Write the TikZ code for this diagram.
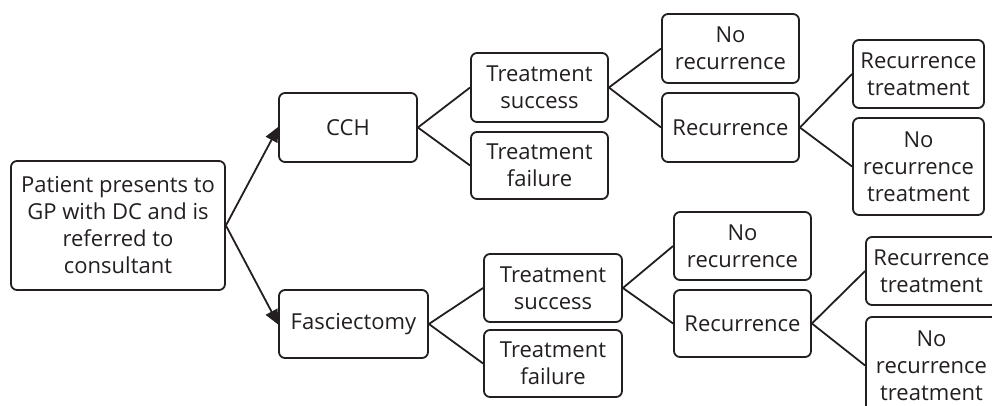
\documentclass[tikz,border=0pt]{standalone}
\usepackage{fontspec}
\setmainfont{Open Sans}
\usetikzlibrary{arrows.meta}
\definecolor{ink}{HTML}{231F20}
\begin{document}
\begin{tikzpicture}[x=1pt,y=-1pt,
  box/.style={draw=ink, line width=1.8pt, rounded corners=6pt, fill=white,
    inner sep=0pt, align=center, text=ink,
    font=\fontsize{22}{27}\selectfont},
  link/.style={draw=ink, line width=1.8pt},
  arr/.style={link, -{Triangle[length=15pt,width=13pt]}, shorten >=-1pt}]
  \useasboundingbox (0,0) rectangle (992,405);
  \clip (0,0) rectangle (992,405);

  % root
  \node[box, minimum width=214pt, minimum height=129pt] (pat) at (118,225.5)
    {Patient presents to\\GP with DC and is\\referred to\\consultant};

  % first-level options
  \node[box, minimum width=138pt, minimum height=69pt] (cch) at (348,127.5) {CCH};
  \node[box, minimum width=149pt, minimum height=68pt] (fas) at (353.5,324) {Fasciectomy};

  % CCH branch
  \node[box, minimum width=137pt, minimum height=69pt] (ts1) at (539.5,87.5) {Treatment\\success};
  \node[box, minimum width=137pt, minimum height=67pt] (tf1) at (539.5,165.5) {Treatment\\failure};
  \node[box, minimum width=137pt, minimum height=69pt] (nr1) at (730.5,48.5) {No\\recurrence};
  \node[box, minimum width=137pt, minimum height=69pt] (rec1) at (730.5,127.5) {Recurrence};
  \node[box, minimum width=131pt, minimum height=68pt] (rt1) at (918.5,74) {Recurrence\\treatment};
  \node[box, minimum width=131pt, minimum height=97pt] (nrt1) at (918.5,166.5) {No\\recurrence\\treatment};

  % Fasciectomy branch
  \node[box, minimum width=138pt, minimum height=68pt] (ts2) at (553,288) {Treatment\\success};
  \node[box, minimum width=138pt, minimum height=67pt] (tf2) at (553,363.5) {Treatment\\failure};
  \node[box, minimum width=137pt, minimum height=68pt] (nr2) at (742.5,246) {No\\recurrence};
  \node[box, minimum width=137pt, minimum height=67pt] (rec2) at (742.5,323.5) {Recurrence};
  \node[box, minimum width=131pt, minimum height=68pt] (rt2) at (931.5,271) {Recurrence\\treatment};
  \node[box, minimum width=131pt, minimum height=97pt] (nrt2) at (931.5,365.5) {No\\recurrence\\treatment};

  % connectors
  \draw[arr] (pat.east) -- (cch.west);
  \draw[arr] (pat.east) -- (fas.west);
  \draw[link] (cch.east) -- (ts1.west);
  \draw[link] (cch.east) -- (tf1.west);
  \draw[link] (ts1.east) -- (nr1.west);
  \draw[link] (ts1.east) -- (rec1.west);
  \draw[link] (rec1.east) -- (rt1.west);
  \draw[link] (rec1.east) -- (nrt1.west);
  \draw[link] (fas.east) -- (ts2.west);
  \draw[link] (fas.east) -- (tf2.west);
  \draw[link] (ts2.east) -- (nr2.west);
  \draw[link] (ts2.east) -- (rec2.west);
  \draw[link] (rec2.east) -- (rt2.west);
  \draw[link] (rec2.east) -- (nrt2.west);
\end{tikzpicture}
\end{document}
